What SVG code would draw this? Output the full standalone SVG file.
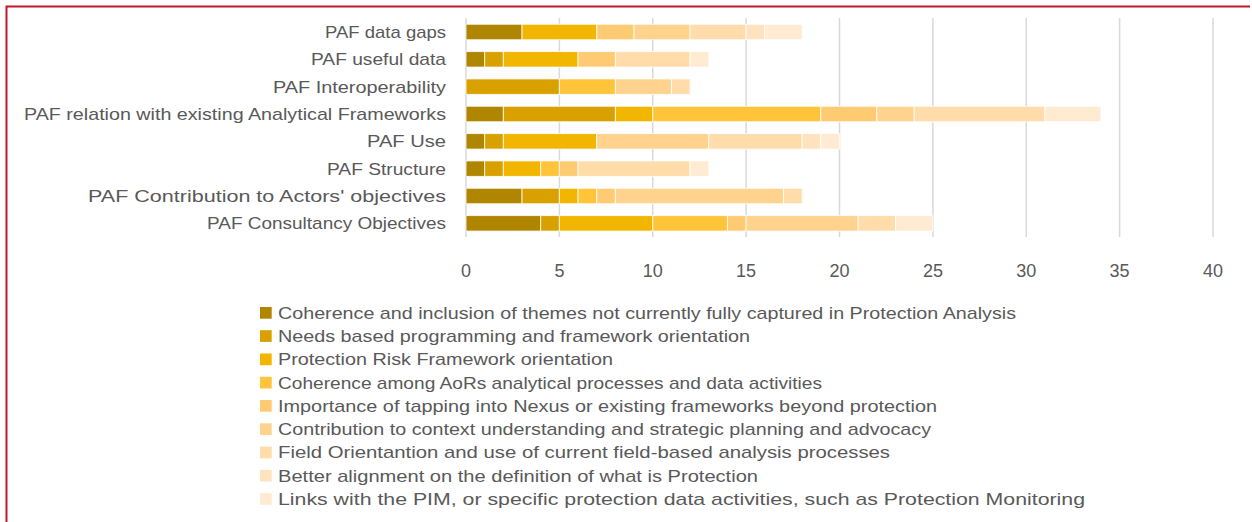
<svg xmlns="http://www.w3.org/2000/svg" width="1252" height="522" viewBox="0 0 1252 522">
<style>
.t{font-family:"Liberation Sans",Arial,sans-serif;font-size:17px;fill:#595959}
.ax{font-family:"Liberation Sans",Arial,sans-serif;font-size:18px;fill:#595959;text-anchor:middle}
.cat{text-anchor:end}
.g{stroke:#D9D9D9;stroke-width:1.5}
.c1{fill:#B08500}.c2{fill:#D9A100}.c3{fill:#F2B600}.c4{fill:#FFC43A}
.c5{fill:#FFCB72}.c6{fill:#FFD38E}.c7{fill:#FFDCAA}.c8{fill:#FFE3BE}.c9{fill:#FFEAD2}
.bars rect{stroke:#FFFFFF;stroke-width:0.8;vector-effect:non-scaling-stroke}
</style>
<rect x="0" y="0" width="1252" height="522" fill="#FFFFFF"/>
<path d="M6.5 522 V6.5 H1250" fill="none" stroke="#C0182A" stroke-width="2"/>
<g id="gridlines">
<line class="g" x1="466" y1="18" x2="466" y2="237"/>
<line class="g" x1="559.4" y1="18" x2="559.4" y2="237"/>
<line class="g" x1="652.75" y1="18" x2="652.75" y2="237"/>
<line class="g" x1="746.1" y1="18" x2="746.1" y2="237"/>
<line class="g" x1="839.5" y1="18" x2="839.5" y2="237"/>
<line class="g" x1="932.9" y1="18" x2="932.9" y2="237"/>
<line class="g" x1="1026.25" y1="18" x2="1026.25" y2="237"/>
<line class="g" x1="1119.6" y1="18" x2="1119.6" y2="237"/>
<line class="g" x1="1213" y1="18" x2="1213" y2="237"/>
</g>
<g id="axis-labels">
<text class="ax" x="466" y="277">0</text>
<text class="ax" x="559.4" y="277">5</text>
<text class="ax" x="652.75" y="277">10</text>
<text class="ax" x="746.1" y="277">15</text>
<text class="ax" x="839.5" y="277">20</text>
<text class="ax" x="932.9" y="277">25</text>
<text class="ax" x="1026.25" y="277">30</text>
<text class="ax" x="1119.6" y="277">35</text>
<text class="ax" x="1213" y="277">40</text>
</g>
<g id="category-labels">
<text class="t cat" x="446" y="38" textLength="121" lengthAdjust="spacingAndGlyphs">PAF data gaps</text>
<text class="t cat" x="446" y="65.3" textLength="135" lengthAdjust="spacingAndGlyphs">PAF useful data</text>
<text class="t cat" x="446" y="92.7" textLength="173" lengthAdjust="spacingAndGlyphs">PAF Interoperability</text>
<text class="t cat" x="446" y="120" textLength="422" lengthAdjust="spacingAndGlyphs">PAF relation with existing Analytical Frameworks</text>
<text class="t cat" x="446" y="147.3" textLength="79" lengthAdjust="spacingAndGlyphs">PAF Use</text>
<text class="t cat" x="446" y="174.7" textLength="119" lengthAdjust="spacingAndGlyphs">PAF Structure</text>
<text class="t cat" x="446" y="202" textLength="358" lengthAdjust="spacingAndGlyphs">PAF Contribution to Actors' objectives</text>
<text class="t cat" x="446" y="229.3" textLength="239" lengthAdjust="spacingAndGlyphs">PAF Consultancy Objectives</text>
</g>
<g id="bars" class="bars" transform="translate(466,0) scale(18.675,1)">
<g id="row-data-gaps">
<rect class="c1" x="0" y="24.25" width="3" height="15.5"/>
<rect class="c3" x="3" y="24.25" width="4" height="15.5"/>
<rect class="c5" x="7" y="24.25" width="2" height="15.5"/>
<rect class="c6" x="9" y="24.25" width="3" height="15.5"/>
<rect class="c7" x="12" y="24.25" width="3" height="15.5"/>
<rect class="c8" x="15" y="24.25" width="1" height="15.5"/>
<rect class="c9" x="16" y="24.25" width="2" height="15.5"/>
</g>
<g id="row-useful-data">
<rect class="c1" x="0" y="51.58" width="1" height="15.5"/>
<rect class="c2" x="1" y="51.58" width="1" height="15.5"/>
<rect class="c3" x="2" y="51.58" width="4" height="15.5"/>
<rect class="c5" x="6" y="51.58" width="2" height="15.5"/>
<rect class="c7" x="8" y="51.58" width="4" height="15.5"/>
<rect class="c9" x="12" y="51.58" width="1" height="15.5"/>
</g>
<g id="row-interoperability">
<rect class="c2" x="0" y="78.92" width="5" height="15.5"/>
<rect class="c4" x="5" y="78.92" width="3" height="15.5"/>
<rect class="c6" x="8" y="78.92" width="3" height="15.5"/>
<rect class="c7" x="11" y="78.92" width="1" height="15.5"/>
</g>
<g id="row-relation">
<rect class="c1" x="0" y="106.25" width="2" height="15.5"/>
<rect class="c2" x="2" y="106.25" width="6" height="15.5"/>
<rect class="c3" x="8" y="106.25" width="2" height="15.5"/>
<rect class="c4" x="10" y="106.25" width="9" height="15.5"/>
<rect class="c5" x="19" y="106.25" width="3" height="15.5"/>
<rect class="c6" x="22" y="106.25" width="2" height="15.5"/>
<rect class="c7" x="24" y="106.25" width="7" height="15.5"/>
<rect class="c9" x="31" y="106.25" width="3" height="15.5"/>
</g>
<g id="row-use">
<rect class="c1" x="0" y="133.58" width="1" height="15.5"/>
<rect class="c2" x="1" y="133.58" width="1" height="15.5"/>
<rect class="c3" x="2" y="133.58" width="5" height="15.5"/>
<rect class="c6" x="7" y="133.58" width="6" height="15.5"/>
<rect class="c7" x="13" y="133.58" width="5" height="15.5"/>
<rect class="c8" x="18" y="133.58" width="1" height="15.5"/>
<rect class="c9" x="19" y="133.58" width="1" height="15.5"/>
</g>
<g id="row-structure">
<rect class="c1" x="0" y="160.92" width="1" height="15.5"/>
<rect class="c2" x="1" y="160.92" width="1" height="15.5"/>
<rect class="c3" x="2" y="160.92" width="2" height="15.5"/>
<rect class="c4" x="4" y="160.92" width="1" height="15.5"/>
<rect class="c5" x="5" y="160.92" width="1" height="15.5"/>
<rect class="c7" x="6" y="160.92" width="6" height="15.5"/>
<rect class="c9" x="12" y="160.92" width="1" height="15.5"/>
</g>
<g id="row-contribution">
<rect class="c1" x="0" y="188.25" width="3" height="15.5"/>
<rect class="c2" x="3" y="188.25" width="2" height="15.5"/>
<rect class="c3" x="5" y="188.25" width="1" height="15.5"/>
<rect class="c4" x="6" y="188.25" width="1" height="15.5"/>
<rect class="c5" x="7" y="188.25" width="1" height="15.5"/>
<rect class="c6" x="8" y="188.25" width="9" height="15.5"/>
<rect class="c7" x="17" y="188.25" width="1" height="15.5"/>
</g>
<g id="row-consultancy">
<rect class="c1" x="0" y="215.58" width="4" height="15.5"/>
<rect class="c2" x="4" y="215.58" width="1" height="15.5"/>
<rect class="c3" x="5" y="215.58" width="5" height="15.5"/>
<rect class="c4" x="10" y="215.58" width="4" height="15.5"/>
<rect class="c5" x="14" y="215.58" width="1" height="15.5"/>
<rect class="c6" x="15" y="215.58" width="6" height="15.5"/>
<rect class="c7" x="21" y="215.58" width="2" height="15.5"/>
<rect class="c9" x="23" y="215.58" width="2" height="15.5"/>
</g>
</g>
<g id="legend">
<rect class="c1" x="260" y="307" width="11.7" height="11.7"/>
<text class="t" x="278" y="318.8" textLength="738" lengthAdjust="spacingAndGlyphs">Coherence and inclusion of themes not currently fully captured in Protection Analysis</text>
<rect class="c2" x="260" y="330.2" width="11.7" height="11.7"/>
<text class="t" x="278" y="342" textLength="472" lengthAdjust="spacingAndGlyphs">Needs based programming and framework orientation</text>
<rect class="c3" x="260" y="353.5" width="11.7" height="11.7"/>
<text class="t" x="278" y="365.3" textLength="335" lengthAdjust="spacingAndGlyphs">Protection Risk Framework orientation</text>
<rect class="c4" x="260" y="376.8" width="11.7" height="11.7"/>
<text class="t" x="278" y="388.6" textLength="544" lengthAdjust="spacingAndGlyphs">Coherence among AoRs analytical processes and data activities</text>
<rect class="c5" x="260" y="400" width="11.7" height="11.7"/>
<text class="t" x="278" y="411.8" textLength="659" lengthAdjust="spacingAndGlyphs">Importance of tapping into Nexus or existing frameworks beyond protection</text>
<rect class="c6" x="260" y="423.3" width="11.7" height="11.7"/>
<text class="t" x="278" y="435.1" textLength="653" lengthAdjust="spacingAndGlyphs">Contribution to context understanding and strategic planning and advocacy</text>
<rect class="c7" x="260" y="446.6" width="11.7" height="11.7"/>
<text class="t" x="278" y="458.4" textLength="612" lengthAdjust="spacingAndGlyphs">Field Orientantion and use of current field-based analysis processes</text>
<rect class="c8" x="260" y="469.8" width="11.7" height="11.7"/>
<text class="t" x="278" y="481.6" textLength="480" lengthAdjust="spacingAndGlyphs">Better alignment on the definition of what is Protection</text>
<rect class="c9" x="260" y="493.1" width="11.7" height="11.7"/>
<text class="t" x="278" y="504.9" textLength="807" lengthAdjust="spacingAndGlyphs">Links with the PIM, or specific protection data activities, such as Protection Monitoring</text>
</g>
</svg>
